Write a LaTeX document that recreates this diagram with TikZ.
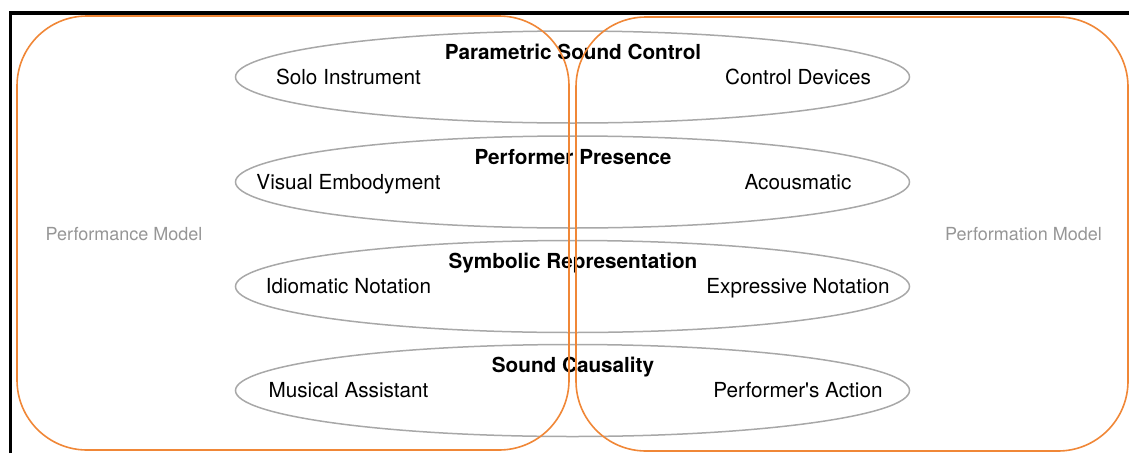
\documentclass[tikz,border=0pt]{standalone}
\usepackage{fontspec}
\setmainfont{TeX Gyre Heros}
\usetikzlibrary{shapes.geometric}
\definecolor{modelOrange}{RGB}{240,135,55}
\definecolor{axisGrey}{RGB}{168,168,168}
\definecolor{modelGrey}{RGB}{150,150,150}
\begin{document}
\begin{tikzpicture}[
    x=1pt,y=-1pt,
    axisEll/.style={ellipse,draw=axisGrey,line width=1.5pt,minimum width=674pt,minimum height=92pt,inner sep=0pt},
    axisTitle/.style={anchor=base,font=\fontsize{20.7}{24}\selectfont\bfseries},
    poleLabel/.style={anchor=base,font=\fontsize{20.7}{24}\selectfont},
    modelBox/.style={rectangle,rounded corners=70pt,draw=modelOrange,line width=1.6pt,minimum width=552pt,minimum height=434pt,inner sep=0pt},
    modelLabel/.style={anchor=base,text=modelGrey,font=\fontsize{18}{22}\selectfont},
]
\useasboundingbox (0,0) rectangle (1129,453);
% frame
\coordinate (frameBL) at (10.5,453);
\coordinate (frameTL) at (10.5,13);
\coordinate (frameTR) at (1129,13);
\draw[line width=3.2pt] (frameBL) -- (frameTL) -- (frameTR);
% axes
\node[axisEll] (pscEll) at (572.5,77) {};
\node[axisEll] (ppEll) at (572.5,182) {};
\node[axisEll] (srEll) at (572.5,286.5) {};
\node[axisEll] (scEll) at (572.5,390.5) {};
\node[axisTitle] (pscTitle) at (573,59) {Parametric Sound Control};
\node[axisTitle] (ppTitle) at (573,164) {Performer Presence};
\node[axisTitle] (srTitle) at (573,268.5) {Symbolic Representation};
\node[axisTitle] (scTitle) at (573,372.5) {Sound Causality};
\node[poleLabel] (soloInst) at (348.5,84) {Solo Instrument};
\node[poleLabel] (ctrlDev) at (798,84) {Control Devices};
\node[poleLabel] (visEmb) at (348.5,189) {Visual Embodyment};
\node[poleLabel] (acousm) at (798,189) {Acousmatic};
\node[poleLabel] (idiomNot) at (348.5,293.5) {Idiomatic Notation};
\node[poleLabel] (exprNot) at (798,293.5) {Expressive Notation};
\node[poleLabel] (musAssist) at (348.5,397.5) {Musical Assistant};
\node[poleLabel] (perfAction) at (798,397.5) {Performer\textquotesingle s Action};
% models
\node[modelBox] (perfBox) at (293,233) {};
\node[modelBox] (perfmBox) at (852,234) {};
\node[modelLabel] (perfLabel) at (124,240.5) {Performance Model};
\node[modelLabel] (perfmLabel) at (1023.5,240.5) {Performation Model};
\end{tikzpicture}
\end{document}
